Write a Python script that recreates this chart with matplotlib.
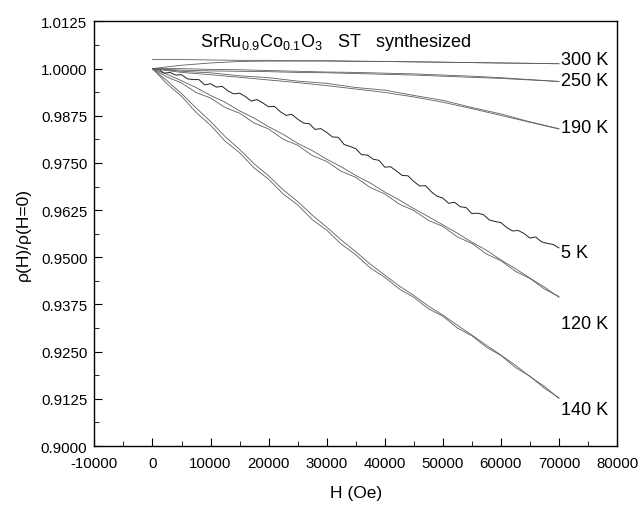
import numpy as np
import matplotlib
matplotlib.use("Agg")
import matplotlib.pyplot as plt
from matplotlib.ticker import MultipleLocator, FormatStrFormatter

plt.rcParams['font.family'] = ['Liberation Sans', 'DejaVu Sans']
plt.rcParams['mathtext.fontset'] = 'custom'
plt.rcParams['mathtext.rm'] = 'Liberation Sans'
plt.rcParams['mathtext.it'] = 'Liberation Sans'
plt.rcParams['axes.unicode_minus'] = False

# field values (Oe)
H_5k = np.arange(0, 70001, 1000)
H_fine = np.arange(0, 70001, 2500)
H_coarse = np.arange(0, 70001, 5000)

# rho(H)/rho(0)
r5 = [1.0000, 0.9999, 0.9988, 0.9990, 0.9983, 0.9984, 0.9973, 0.9971, 0.9971, 0.9957,
      0.9960, 0.9951, 0.9953, 0.9941, 0.9933, 0.9935, 0.9926, 0.9914, 0.9918, 0.9909,
      0.9899, 0.9900, 0.9886, 0.9876, 0.9879, 0.9866, 0.9856, 0.9854, 0.9839, 0.9841,
      0.9831, 0.9819, 0.9818, 0.9799, 0.9794, 0.9788, 0.9772, 0.9771, 0.9760, 0.9757,
      0.9739, 0.9740, 0.9729, 0.9717, 0.9716, 0.9701, 0.9689, 0.9690, 0.9674, 0.9662,
      0.9657, 0.9643, 0.9646, 0.9634, 0.9632, 0.9616, 0.9617, 0.9613, 0.9599, 0.9595,
      0.9592, 0.9579, 0.9570, 0.9571, 0.9563, 0.9551, 0.9554, 0.9541, 0.9537, 0.9534,
      0.9525]
r140_a = [1.0, 0.9960, 0.9927, 0.9884, 0.9850, 0.9808, 0.9777, 0.9737, 0.9707, 0.9668,
          0.9639, 0.9600, 0.9572, 0.9535, 0.9507, 0.9472, 0.9447, 0.9416, 0.9394, 0.9364,
          0.9344, 0.9313, 0.9292, 0.9262, 0.9240, 0.9208, 0.9185, 0.9153, 0.9128]
r140_b = [1.0, 0.9968, 0.9934, 0.9896, 0.9860, 0.9820, 0.9786, 0.9748, 0.9716, 0.9679,
          0.9648, 0.9612, 0.9580, 0.9546, 0.9515, 0.9482, 0.9453, 0.9424, 0.9399, 0.9371,
          0.9347, 0.9320, 0.9294, 0.9267, 0.9241, 0.9214, 0.9184, 0.9158, 0.9126]
r120_a = [1.0, 0.9978, 0.9962, 0.9937, 0.9922, 0.9897, 0.9882, 0.9856, 0.9840, 0.9813,
          0.9797, 0.9770, 0.9754, 0.9728, 0.9712, 0.9685, 0.9668, 0.9641, 0.9624, 0.9598,
          0.9582, 0.9554, 0.9537, 0.9509, 0.9491, 0.9463, 0.9444, 0.9416, 0.9396]
r120_b = [1.0, 0.9985, 0.9968, 0.9950, 0.9929, 0.9911, 0.9888, 0.9869, 0.9846, 0.9826,
          0.9802, 0.9783, 0.9760, 0.9740, 0.9717, 0.9697, 0.9673, 0.9652, 0.9629, 0.9608,
          0.9586, 0.9564, 0.9540, 0.9519, 0.9493, 0.9470, 0.9445, 0.9421, 0.9394]
r190_a = [1.0, 0.9993, 0.9989, 0.9981, 0.9976, 0.9967, 0.9961, 0.9950, 0.9943, 0.9929,
          0.9916, 0.9897, 0.9880, 0.9859, 0.9841]
r190_b = [1.0, 0.9990, 0.9984, 0.9977, 0.9970, 0.9963, 0.9955, 0.9946, 0.9937, 0.9925,
          0.9911, 0.9894, 0.9876, 0.9858, 0.9840]
r250_a = [1.0, 1.0000, 0.9998, 0.9997, 0.9995, 0.9993, 0.9991, 0.9990, 0.9988, 0.9986,
          0.9983, 0.9980, 0.9976, 0.9971, 0.9966]
r250_b = [1.0, 0.9996, 0.9994, 0.9993, 0.9992, 0.9990, 0.9989, 0.9987, 0.9985, 0.9983,
          0.9980, 0.9977, 0.9974, 0.9970, 0.9966]
r300_a = [1.0, 1.0009, 1.0015, 1.0019, 1.0020, 1.0020, 1.0020, 1.0019, 1.0019, 1.0018,
          1.0017, 1.0016, 1.0015, 1.0014, 1.0013]
r300_b = [1.0024, 1.0024, 1.0023, 1.0022, 1.0022, 1.0021, 1.0021, 1.0020, 1.0019, 1.0018,
          1.0017, 1.0016, 1.0015, 1.0014, 1.0013]

labels = ["300 K", "250 K", "190 K", "5 K", "120 K", "140 K"]
label_y = [1.0025, 0.9969, 0.9845, 0.9512, 0.9325, 0.9097]

fig = plt.figure(figsize=(6.4, 5.06), dpi=100)
ax = fig.add_axes([0.1475, 0.1166, 0.8166, 0.839])

grey = "#5e5e5e"
for y in [r140_a, r140_b, r120_a, r120_b]:
    ax.plot(H_fine, y, color=grey, lw=0.6)
ax.plot(H_5k, r5, color="#222222", lw=0.7)
for y in [r190_a, r190_b, r250_a, r250_b, r300_a, r300_b]:
    ax.plot(H_coarse, y, color=grey, lw=0.6)

for lab, yy in zip(labels, label_y):
    ax.text(70300, yy, lab, fontsize=13, va='center', ha='left')

ax.text(31500, 1.0072, r"SrRu$_{0.9}$Co$_{0.1}$O$_3$   ST   synthesized",
        fontsize=13, ha='center', va='center')

ax.set_xlim(-10000, 80000)
ax.set_ylim(0.9, 1.0125)
ax.xaxis.set_major_locator(MultipleLocator(10000))
ax.xaxis.set_minor_locator(MultipleLocator(5000))
ax.yaxis.set_major_locator(MultipleLocator(0.0125))
ax.yaxis.set_minor_locator(MultipleLocator(0.00625))
ax.yaxis.set_major_formatter(FormatStrFormatter('%.4f'))
ax.tick_params(which='both', direction='in', top=False, right=False, labelsize=10.8)
ax.tick_params(which='major', length=6)
ax.tick_params(which='minor', length=3.5)
ax.tick_params(axis='x', which='major', pad=7)
ax.tick_params(axis='y', which='major', pad=5)
for s in ax.spines.values():
    s.set_linewidth(1.0)

ax.set_xlabel("H (Oe)", fontsize=12.5, labelpad=11)
ax.set_ylabel("ρ(H)/ρ(H=0)", fontsize=12.5, labelpad=7)

fig.savefig("out.png", dpi=100)
